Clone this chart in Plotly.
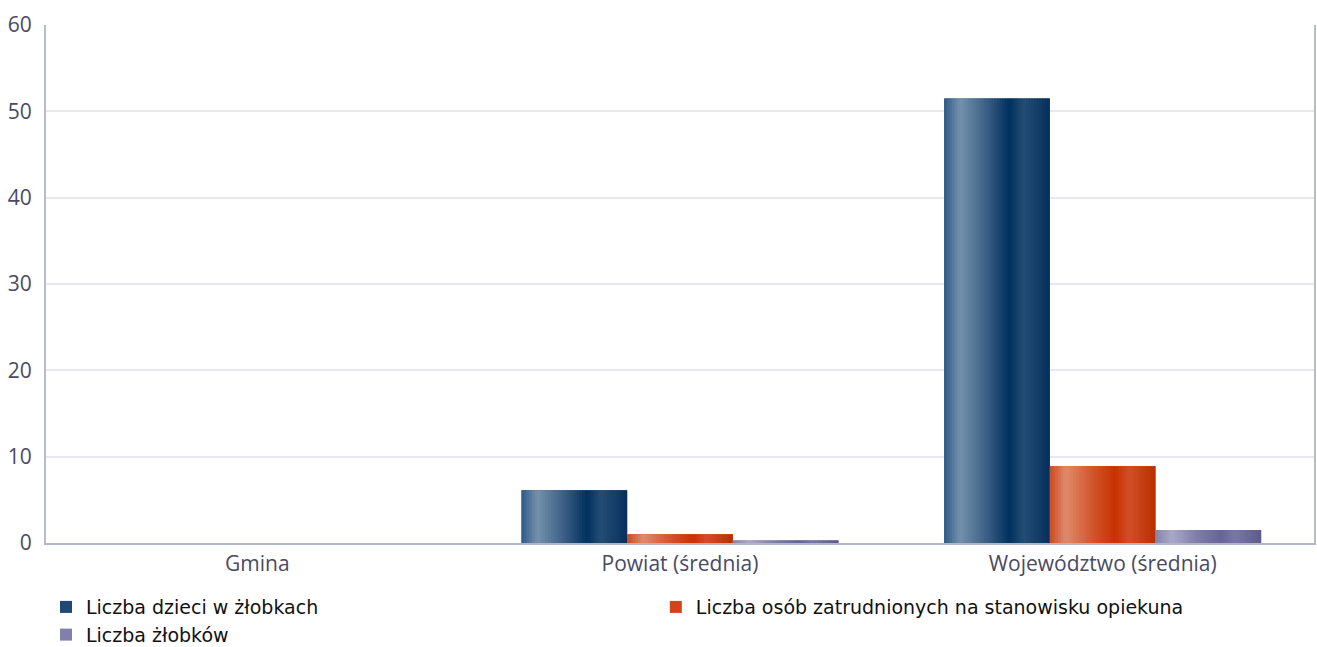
import plotly.graph_objects as go

categories = ["Gmina", "Powiat (średnia)", "Województwo (średnia)"]
series_names = [
    "Liczba dzieci w żłobkach",
    "Liczba osób zatrudnionych na stanowisku opiekuna",
    "Liczba żłobków",
]
dzieci = [0, 6.1, 51.5]
opiekunowie = [0, 1.0, 8.9]
zlobki = [0, 0.3, 1.5]
y_ticks = [0, 10, 20, 30, 40, 50, 60]

series_values = [dzieci, opiekunowie, zlobki]

# gradient stops (position, colour) per series
gradients = [
    [(0.0, "#2d5a86"), (0.15, "#7592ad"), (0.4, "#3b5f85"), (0.62, "#00305e"),
     (0.75, "#244d75"), (1.0, "#062f5c")],
    [(0.0, "#cc4a20"), (0.15, "#e08a6c"), (0.38, "#d25a32"), (0.62, "#c83200"),
     (0.75, "#d24e28"), (1.0, "#b83000")],
    [(0.0, "#8482aa"), (0.15, "#aaa8c8"), (0.4, "#7e7caa"), (0.62, "#66639a"),
     (0.75, "#7a78a8"), (1.0, "#5c5a8a")],
]
legend_colors = ["#1f4a78", "#d0461c", "#8280aa"]


def hex2rgb(h):
    h = h.lstrip("#")
    return tuple(int(h[i:i + 2], 16) for i in (0, 2, 4))


def interp(stops, t):
    for (p0, c0), (p1, c1) in zip(stops[:-1], stops[1:]):
        if p0 <= t <= p1:
            f = (t - p0) / (p1 - p0) if p1 > p0 else 0
            a, b = hex2rgb(c0), hex2rgb(c1)
            r = [round(a[i] + (b[i] - a[i]) * f) for i in range(3)]
            return "rgb(%d,%d,%d)" % tuple(r)
    return stops[-1][1]


fig = go.Figure()

group_width = 0.75
bar_w = group_width / 3
n_slices = 40
slice_w = bar_w / n_slices

for i, (name, vals) in enumerate(zip(series_names, series_values)):
    start = -group_width / 2 + i * bar_w
    fig.add_trace(go.Bar(
        x=categories, y=vals, name=name, legendgroup=name,
        marker=dict(color=legend_colors[i], line=dict(width=0)),
        width=bar_w, offset=start, showlegend=True,
        hoverinfo="skip",
    ))
    for k in range(n_slices):
        t = (k + 0.5) / n_slices
        w = slice_w * (1.6 if k < n_slices - 1 else 1.0)
        fig.add_trace(go.Bar(
            x=categories, y=vals, name=name, legendgroup=name,
            marker=dict(color=interp(gradients[i], t), line=dict(width=0)),
            width=w, offset=start + k * slice_w,
            showlegend=False, hovertemplate="%{x}: %{y}<extra>" + name + "</extra>",
        ))

fig.update_layout(
    width=1317, height=647,
    barmode="overlay",
    paper_bgcolor="white", plot_bgcolor="white",
    margin=dict(l=46, r=3, t=25, b=104, autoexpand=False),
    font=dict(family="Open Sans", size=21, color="#4a4a63"),
    legend=dict(
        orientation="h", x=0.0, xanchor="left", y=-0.087, yanchor="top",
        font=dict(family="DejaVu Sans", size=19, color="#111111"),
        entrywidth=0.477, entrywidthmode="fraction",
        itemsizing="constant", tracegroupgap=0,
        itemclick=False, itemdoubleclick=False,
    ),
    showlegend=True,
)
fig.update_xaxes(
    showline=True, linecolor="#b3b6ca", linewidth=2,
    showgrid=False, ticks="", ticklabelstandoff=1,
    tickfont=dict(family="Open Sans", size=21, color="#4a4a63"),
)
fig.update_yaxes(
    range=[0, 60], tickvals=y_ticks,
    showline=True, linecolor="#b8bbcd", linewidth=2, mirror=True,
    showgrid=True, gridcolor="#e8e8f0", gridwidth=1.5,
    zeroline=False, ticks="", ticklabelstandoff=8,
    tickfont=dict(family="Open Sans", size=21, color="#4a4a63"),
)

fig.write_html(
    "out.html",
    config={"displayModeBar": False},
    post_script="document.body.style.margin='0';document.body.style.overflow='hidden';",
)
